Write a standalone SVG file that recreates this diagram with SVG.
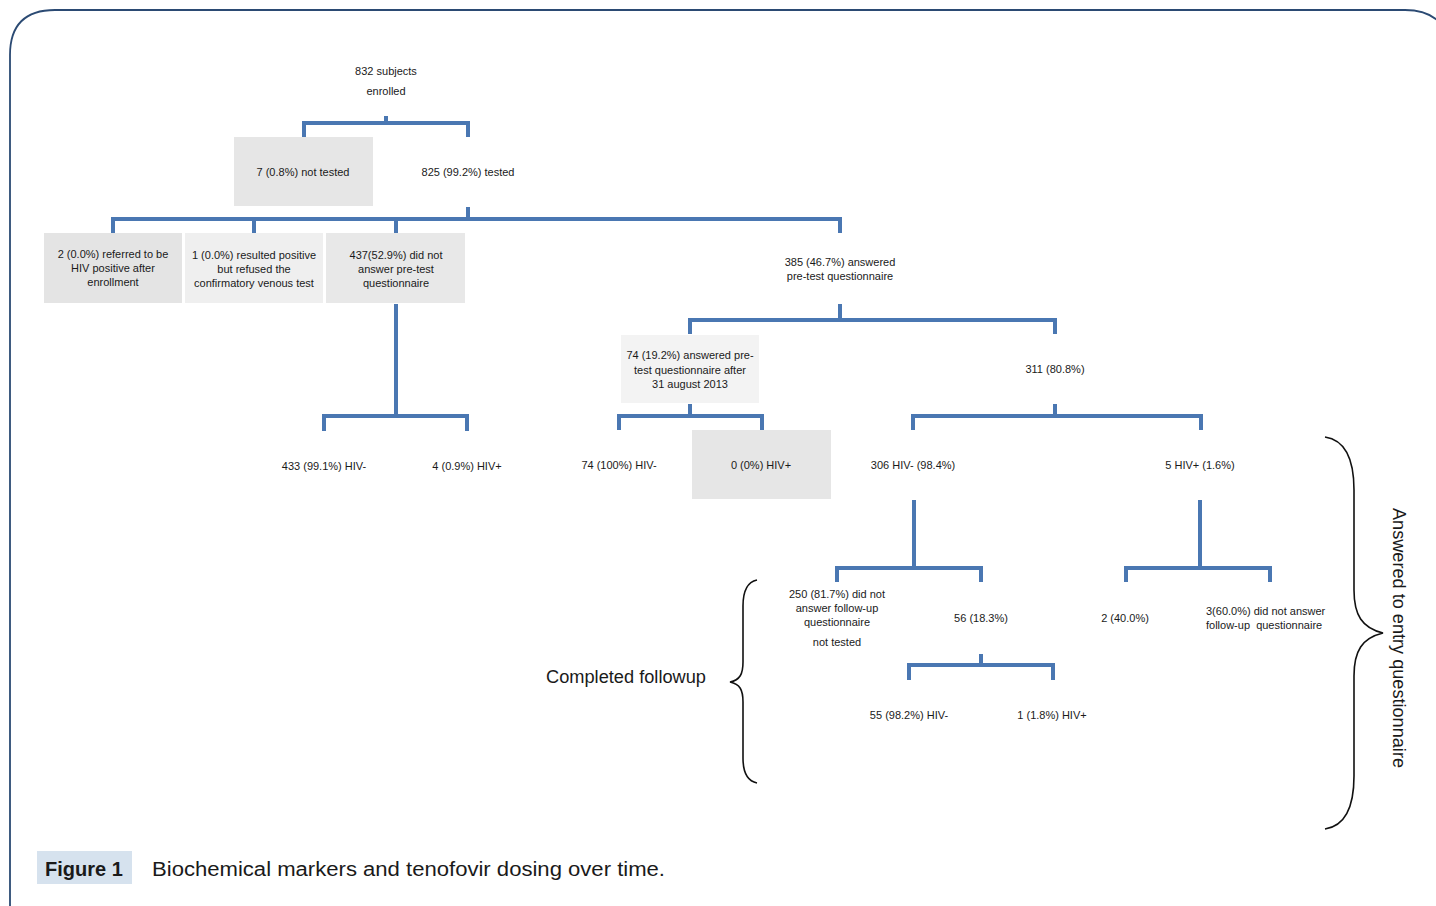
<svg xmlns="http://www.w3.org/2000/svg" width="1436" height="906" viewBox="0 0 1436 906">
<style>
.t{font-family:"Liberation Sans",Arial,sans-serif;font-size:11px;fill:#1a1a1a;text-anchor:middle}
.tl{text-anchor:start}
.c{fill:none;stroke:#4a77b2;stroke-width:4;stroke-linejoin:miter}
.b{fill:none;stroke:#111;stroke-width:1.6}
.big{font-family:"Liberation Sans",Arial,sans-serif;font-size:18px;fill:#1a1a1a}
</style>
<rect width="1436" height="906" fill="#fff"/>
<path d="M10,920 V55 Q10,10 55,10 H1405 Q1440,10 1450,40" fill="none" stroke="#2b4a73" stroke-width="1.8"/>

<g id="connectors">
<path class="c" d="M386,116 V123 M304,137 V123 H468 V137"/>
<path class="c" d="M468,207 V219 M113,233 V219 H840 V233 M254,219 V233 M396,219 V233"/>
<path class="c" d="M396,304 V416 M324,431 V416 H467 V431"/>
<path class="c" d="M840,304 V320 M690,334 V320 H1055 V334"/>
<path class="c" d="M690,404 V416 M619,430 V416 H762 V430"/>
<path class="c" d="M1055,404 V416 M913,430 V416 H1201 V430"/>
<path class="c" d="M914,500 V568 M837,582 V568 H981 V582"/>
<path class="c" d="M1200,500 V568 M1126,582 V568 H1270 V582"/>
<path class="c" d="M981,654 V665 M909,680 V665 H1053 V680"/>
</g>

<g id="n-enrolled"><text class="t" x="386" y="75">832 subjects</text><text class="t" x="386" y="95">enrolled</text></g>
<g id="n-nottested"><rect x="234" y="137" width="139" height="69" fill="#e6e6e6"/><text class="t" x="303" y="176">7 (0.8%) not tested</text></g>
<g id="n-tested"><text class="t" x="468" y="176">825 (99.2%) tested</text></g>
<g id="n-referred"><rect x="44" y="233" width="138" height="70" fill="#e4e4e4"/><text class="t" x="113" y="258">2 (0.0%) referred to be</text><text class="t" x="113" y="272">HIV positive after</text><text class="t" x="113" y="286">enrollment</text></g>
<g id="n-refused"><rect x="185" y="233" width="138" height="70" fill="#efefef"/><text class="t" x="254" y="259">1 (0.0%) resulted positive</text><text class="t" x="254" y="273">but refused the</text><text class="t" x="254" y="287">confirmatory venous test</text></g>
<g id="n-noanswer"><rect x="326" y="233" width="139" height="70" fill="#e8e8e8"/><text class="t" x="396" y="259">437(52.9%) did not</text><text class="t" x="396" y="273">answer pre-test</text><text class="t" x="396" y="287">questionnaire</text></g>
<g id="n-433"><text class="t" x="324" y="470">433 (99.1%) HIV-</text></g>
<g id="n-4"><text class="t" x="467" y="470">4 (0.9%) HIV+</text></g>
<g id="n-385"><text class="t" x="840" y="266">385 (46.7%) answered</text><text class="t" x="840" y="280">pre-test questionnaire</text></g>
<g id="n-74"><rect x="621" y="335" width="138" height="68" fill="#f3f3f3"/><text class="t" x="690" y="359">74 (19.2%) answered pre-</text><text class="t" x="690" y="374">test questionnaire after</text><text class="t" x="690" y="388">31 august 2013</text></g>
<g id="n-311"><text class="t" x="1055" y="373">311 (80.8%)</text></g>
<g id="n-74neg"><text class="t" x="619" y="469">74 (100%) HIV-</text></g>
<g id="n-0pos"><rect x="692" y="430" width="139" height="69" fill="#e6e6e6"/><text class="t" x="761" y="469">0 (0%) HIV+</text></g>
<g id="n-306"><text class="t" x="913" y="469">306 HIV- (98.4%)</text></g>
<g id="n-5"><text class="t" x="1200" y="469">5 HIV+ (1.6%)</text></g>
<g id="n-250"><text class="t" x="837" y="598">250 (81.7%) did not</text><text class="t" x="837" y="612">answer follow-up</text><text class="t" x="837" y="626">questionnaire</text><text class="t" x="837" y="646">not tested</text></g>
<g id="n-56"><text class="t" x="981" y="622">56 (18.3%)</text></g>
<g id="n-2"><text class="t" x="1125" y="622">2 (40.0%)</text></g>
<g id="n-3"><text class="t tl" x="1206" y="615">3(60.0%) did not answer</text><text class="t tl" x="1206" y="629" xml:space="preserve">follow-up  questionnaire</text></g>
<g id="n-55"><text class="t" x="909" y="719">55 (98.2%) HIV-</text></g>
<g id="n-1"><text class="t" x="1052" y="719">1 (1.8%) HIV+</text></g>

<g id="brace-followup">
<path class="b" d="M757,580 C747,582 743,592 743,606 V662 C743,674 740,680 730,682 C740,684 743,690 743,702 V758 C743,772 747,781 757,783"/>
<text class="big" x="546" y="683" textLength="160" lengthAdjust="spacingAndGlyphs">Completed followup</text>
</g>
<g id="brace-entry">
<path class="b" d="M1325,437 C1345,440 1354,458 1354,490 V590 C1354,615 1362,628 1383,633 C1362,638 1354,651 1354,676 V776 C1354,808 1345,826 1325,829"/>
<text class="big" transform="translate(1393,638) rotate(90)" text-anchor="middle" textLength="260" lengthAdjust="spacingAndGlyphs">Answered to entry questionnaire</text>
</g>

<g id="caption">
<rect x="37" y="851" width="95" height="33" fill="#d6e2ee"/>
<text x="45" y="876" font-family="Liberation Sans,Arial,sans-serif" font-size="20" font-weight="bold" fill="#1a1a1a">Figure 1</text>
<text x="152" y="876" font-family="Liberation Sans,Arial,sans-serif" font-size="20" fill="#1a1a1a" textLength="513" lengthAdjust="spacingAndGlyphs">Biochemical markers and tenofovir dosing over time.</text>
</g>
</svg>
